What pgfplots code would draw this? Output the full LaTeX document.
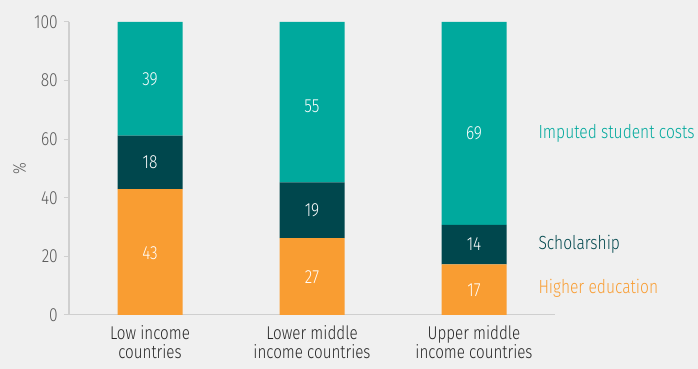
\documentclass[border=0pt]{standalone}
\usepackage{pgfplots}
\pgfplotsset{compat=1.18}
\usepackage{fontspec}
\setmainfont{Fira Sans}[FakeStretch=0.82, UprightFont=* Light]
\definecolor{bg}{HTML}{F0F0F0}
\definecolor{tealc}{HTML}{00A99D}
\definecolor{darkc}{HTML}{00474D}
\definecolor{orangec}{HTML}{F99D32}
\definecolor{axgray}{HTML}{CFCFCF}
\definecolor{txtgray}{HTML}{5A5A5A}
\begin{document}
\fontsize{18}{20}\selectfont
\begin{tikzpicture}[x=1pt,y=1pt]
\useasboundingbox (0,0) rectangle (698,369);
\fill[bg] (0,0) rectangle (698,369);
\begin{axis}[
  at={(69pt,54pt)}, anchor=south west, scale only axis,
  width=486pt, height=293pt,
  xmin=-0.5, xmax=2.5, ymin=0, ymax=100,
  ybar stacked, bar width=65pt,
  axis lines*=left,
  axis line style={axgray, line width=1pt},
  xtick={0,1,2},
  xticklabels={{Low income\\countries},{Lower middle\\income countries},{Upper middle\\income countries}},
  xticklabel style={align=center, text=black!85, font=\fontsize{18.5}{19.5}\selectfont, yshift=-4pt, inner sep=1pt},
  xtick style={draw=none},
  ytick={0,20,...,100},
  yticklabel style={text=txtgray, font=\fontsize{19}{20}\selectfont},
  ytick style={axgray, line width=1pt},
  tick align=outside, major tick length=5pt,
  /pgf/number format/assume math mode=true,
  ylabel={\%}, ylabel style={text=txtgray, font=\fontsize{18}{20}\selectfont, yshift=-4pt},
  clip=true,
]
\addplot[fill=orangec, draw=none] coordinates {(0,43) (1,26.2) (2,17.3)};
\addplot[fill=darkc, draw=none] coordinates {(0,18.2) (1,19.1) (2,13.5)};
\addplot[fill=tealc, draw=none] coordinates {(0,38.8) (1,54.7) (2,69.2)};
\end{axis}
\begin{axis}[
  at={(69pt,54pt)}, anchor=south west, scale only axis,
  width=486pt, height=293pt,
  xmin=-0.5, xmax=2.5, ymin=0, ymax=100,
  hide axis, clip=false,
]
\addplot[only marks, mark=none, nodes near coords, point meta=explicit symbolic,
  every node near coord/.style={text=white, anchor=center, font=\fontsize{19}{20}\selectfont}]
  coordinates {(0,21.2)[43] (1,12.8)[27] (2,8.5)[17]
               (0,52)[18] (1,35.8)[19] (2,24.1)[14]
               (0,80.3)[39] (1,71.3)[55] (2,62.1)[69]};
\node[anchor=west, text=tealc, font=\fontsize{19}{20}\selectfont] at (axis cs:2.36,62) {Imputed student costs};
\node[anchor=west, text=darkc, font=\fontsize{19}{20}\selectfont] at (axis cs:2.36,24.2) {Scholarship};
\node[anchor=west, text=orangec, font=\fontsize{19}{20}\selectfont] at (axis cs:2.36,9.2) {Higher education};
\end{axis}
\end{tikzpicture}
\end{document}
